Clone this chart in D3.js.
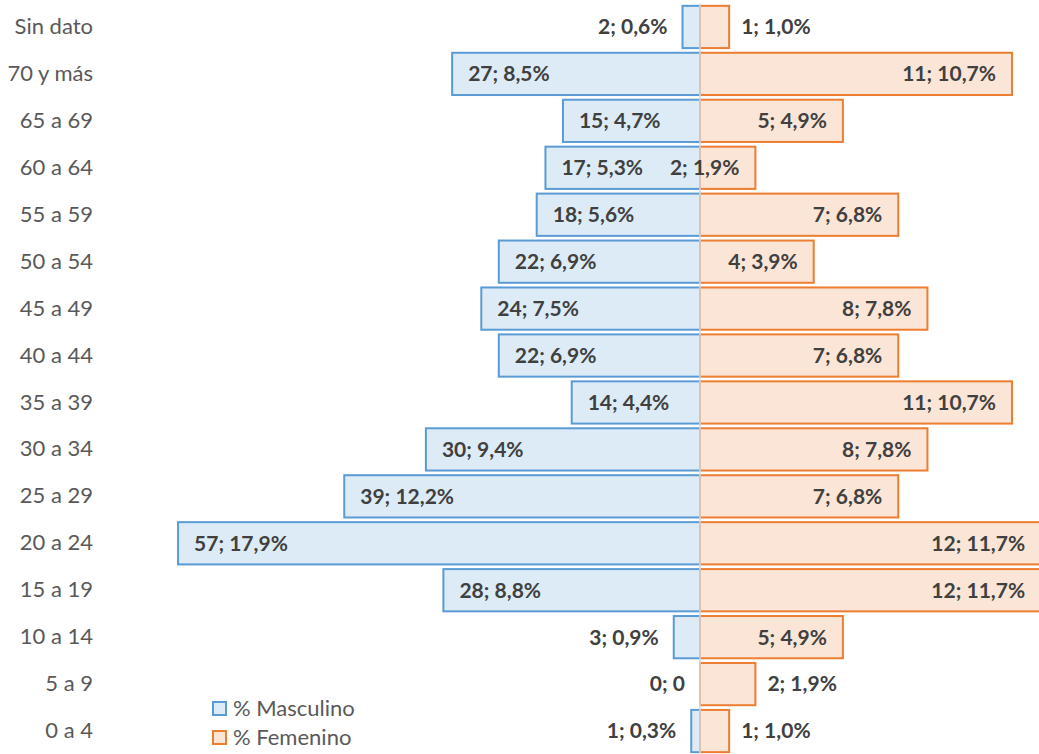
<!DOCTYPE html>
<html>
<head>
<meta charset="utf-8">
<script src="https://d3js.org/d3.v7.min.js"></script>
<style>
  body { margin: 0; background: #fff; }
  text { font-family: Lato, "Open Sans", sans-serif; }
</style>
</head>
<body>
<svg width="1039" height="754"></svg>
<script>
const ages = ['Sin dato', '70 y más', '65 a 69', '60 a 64', '55 a 59', '50 a 54', '45 a 49', '40 a 44',
              '35 a 39', '30 a 34', '25 a 29', '20 a 24', '15 a 19', '10 a 14', '5 a 9', '0 a 4'];
const countM = [2, 27, 15, 17, 18, 22, 24, 22, 14, 30, 39, 57, 28, 3, 0, 1];
const pctM   = [0.6, 8.5, 4.7, 5.3, 5.6, 6.9, 7.5, 6.9, 4.4, 9.4, 12.2, 17.9, 8.8, 0.9, 0, 0.3];
const countF = [1, 11, 5, 2, 7, 4, 8, 7, 11, 8, 7, 12, 12, 5, 2, 1];
const pctF   = [1.0, 10.7, 4.9, 1.9, 6.8, 3.9, 7.8, 6.8, 10.7, 7.8, 6.8, 11.7, 11.7, 4.9, 1.9, 1.0];
// labels drawn outside the bar end
const outsideM = ['Sin dato', '10 a 14', '5 a 9', '0 a 4'];
const outsideF = ['Sin dato', '5 a 9', '0 a 4'];
const series = ['% Masculino', '% Femenino'];

const svg = d3.select('svg');
const x = d3.scaleLinear().domain([-18, 12]).range([700 - 18 * 29.16, 700 + 12 * 29.16]);
const y = d3.scaleBand().domain(ages).range([3.5, 754.5]).paddingInner(0.1).paddingOuter(0.05);

const fmt = (c, p) => c === 0 ? '0; 0' : c + '; ' + p.toFixed(1).replace('.', ',') + '%';

const rows = ages.map((a, i) => ({age: a, cm: countM[i], pm: pctM[i], cf: countF[i], pf: pctF[i]}));

// male bars
svg.append('g').selectAll('rect').data(rows.filter(d => d.pm > 0)).join('rect')
  .attr('x', d => x(-d.pm)).attr('y', d => y(d.age))
  .attr('width', d => x(0) - x(-d.pm)).attr('height', y.bandwidth())
  .attr('fill', '#ddebf7').attr('stroke', '#5b9bd5').attr('stroke-width', 2);

// female bars
svg.append('g').selectAll('rect').data(rows).join('rect')
  .attr('x', x(0)).attr('y', d => y(d.age))
  .attr('width', d => x(d.pf) - x(0)).attr('height', y.bandwidth())
  .attr('fill', '#fbe5d6').attr('stroke', '#ed7d31').attr('stroke-width', 2);

// centre axis
svg.append('line').attr('x1', x(0)).attr('x2', x(0)).attr('y1', 3.5).attr('y2', 754.5)
  .attr('stroke', '#d9d9d9').attr('stroke-width', 1.5);

// category labels
svg.append('g').attr('transform', 'translate(93,0)')
  .call(d3.axisLeft(y).tickSize(0).tickPadding(0))
  .call(g => g.select('.domain').remove())
  .call(g => g.selectAll('text').attr('fill', '#595959').style('font-size', '22px')
      .style('font-family', 'Lato, "Open Sans", sans-serif'));

// data labels
const lab = svg.append('g').attr('fill', '#404040').style('font-size', '21px').style('font-weight', 'bold');
lab.selectAll('text.m').data(rows).join('text').attr('class', 'm')
  .attr('x', d => outsideM.includes(d.age) ? x(-d.pm) - 15 : x(-d.pm) + 16)
  .attr('y', d => y(d.age) + y.bandwidth() / 2).attr('dy', '0.35em')
  .attr('text-anchor', d => outsideM.includes(d.age) ? 'end' : 'start')
  .text(d => fmt(d.cm, d.pm));
lab.selectAll('text.f').data(rows).join('text').attr('class', 'f')
  .attr('x', d => outsideF.includes(d.age) ? x(d.pf) + 12 : x(d.pf) - 16)
  .attr('y', d => y(d.age) + y.bandwidth() / 2).attr('dy', '0.35em')
  .attr('text-anchor', d => outsideF.includes(d.age) ? 'start' : 'end')
  .text(d => fmt(d.cf, d.pf));

// legend
const leg = svg.append('g').selectAll('g').data(series).join('g')
  .attr('transform', (d, i) => `translate(213,${702 + i * 29})`);
leg.append('rect').attr('width', 13).attr('height', 13)
  .attr('fill', (d, i) => i ? '#fbe5d6' : '#ddebf7')
  .attr('stroke', (d, i) => i ? '#ed7d31' : '#5b9bd5').attr('stroke-width', 2);
leg.append('text').attr('x', 20).attr('y', 6.5).attr('dy', '0.35em')
  .attr('fill', '#595959').style('font-size', '22px').text(d => d);
</script>
</body>
</html>
